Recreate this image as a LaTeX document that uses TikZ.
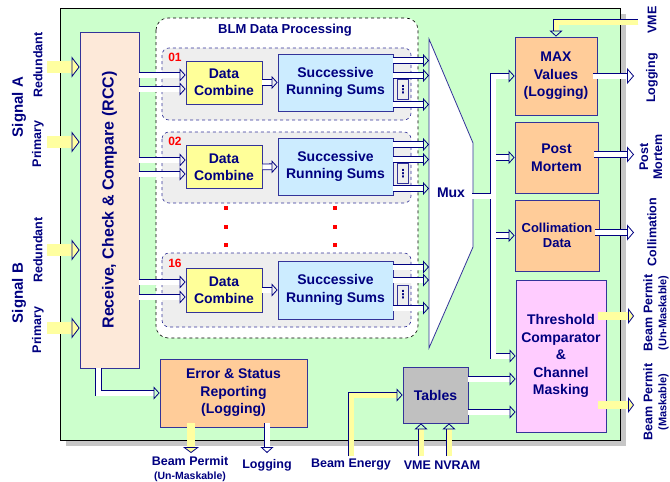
\documentclass[tikz,border=0pt]{standalone}
\usepackage{fontspec}
\setmainfont{Liberation Sans}
\newfontfamily\symfont{DejaVu Sans}
\usetikzlibrary{arrows.meta,positioning}
\definecolor{navy}{RGB}{0,0,128}
\definecolor{bord}{RGB}{51,51,153}
\definecolor{bggreen}{RGB}{204,255,204}
\definecolor{rccpeach}{RGB}{253,233,217}
\definecolor{chgray}{RGB}{238,238,238}
\definecolor{dcyellow}{RGB}{255,255,153}
\definecolor{srsblue}{RGB}{204,236,255}
\definecolor{boxorange}{RGB}{255,204,153}
\definecolor{thrpink}{RGB}{255,204,255}
\definecolor{tabgray}{RGB}{192,192,192}
\definecolor{sigyellow}{RGB}{255,255,160}

\begin{document}
\begin{tikzpicture}[x=1pt, y=-1pt,
  blk/.style={draw=bord, line width=0.8pt, text=navy, align=center, inner sep=0pt,
    font=\bfseries\fontsize{14}{17.5}\selectfont},
  chan/.style={draw=bord, dashed, line width=0.6pt, rounded corners=7pt, fill=chgray},
  dotbox/.style={draw=bord, fill=chgray, line width=0.6pt, text=navy, inner sep=0pt,
    minimum width=10pt, minimum height=20pt, font=\symfont\bfseries\fontsize{11}{11}\selectfont},
  num/.style={text=red, inner sep=0pt, font=\bfseries\fontsize{12}{12}\selectfont},
  lbl/.style={text=navy, align=center, inner sep=0pt, font=\bfseries\fontsize{12.5}{14}\selectfont},
  pipe/.style={draw=navy, line width=0.8pt, double=white, double distance=5pt,
    -{Triangle[open, length=6pt, width=13pt]}},
  bigpipe/.style={pipe, -{Triangle[open, length=7pt, width=16pt]}},
  ypipe/.style={pipe, double=sigyellow},
  sig/.style={draw=sigyellow, line width=12pt,
    -{Triangle[length=8pt, width=21pt, fill=sigyellow, color=navy, line width=0.8pt]}},
  ysig/.style={draw=sigyellow, line width=8pt,
    -{Triangle[length=6pt, width=16pt, fill=sigyellow, color=navy, line width=0.8pt]}},
  rdot/.style={fill=red, minimum size=3.5pt, inner sep=0pt}]
  \useasboundingbox (0,0) rectangle (670,482);
  \fill[gray!45] (66,14) rectangle (626,446);
  \draw[fill=bggreen, line width=0.8pt] (60,8) rectangle (620,440);

  \node[blk, fill=rccpeach, minimum width=59pt, minimum height=336pt] (rcc) at (109.5,200) {};
  \node[lbl, rotate=90, font=\bfseries\fontsize{16}{16}\selectfont] (rcctxt) at (rcc.center) {Receive, Check \& Compare (RCC)};
  \node[lbl, rotate=90, font=\bfseries\fontsize{15}{15}\selectfont] (siga) at (19,107) {Signal A};
  \node[lbl, rotate=90] (reda) at (38,65) {Redundant};
  \node[lbl, rotate=90] (pria) at (38,144) {Primary};
  \node[lbl, rotate=90, font=\bfseries\fontsize{15}{15}\selectfont] (sigb) at (19,293) {Signal B};
  \node[lbl, rotate=90] (redb) at (38,250) {Redundant};
  \node[lbl, rotate=90] (prib) at (38,330) {Primary};
  \coordinate (sigx) at (47,0);
  \draw[sig] ([yshift=133pt]rcc.west -| sigx) -- ([yshift=133pt]rcc.west);
  \draw[sig] ([yshift=58pt]rcc.west -| sigx) -- ([yshift=58pt]rcc.west);
  \draw[sig] ([yshift=-50pt]rcc.west -| sigx) -- ([yshift=-50pt]rcc.west);
  \draw[sig] ([yshift=-128pt]rcc.west -| sigx) -- ([yshift=-128pt]rcc.west);

  \draw[dashed, fill=white, rounded corners=12pt, line width=0.6pt] (156,18) rectangle (418,338);
  \node[lbl, font=\bfseries\fontsize{13}{13}\selectfont] (blm) at (285,30) {BLM Data Processing};

  % channel 01
  \draw[chan] (162,48) rectangle (411,120);
  \node[num] (n1) at (175,57) {01};
  \node[blk, fill=dcyellow, minimum width=76pt, minimum height=43pt] (dc1) at (224,82.5) {Data\\Combine};
  \node[blk, fill=srsblue, minimum width=115pt, minimum height=57pt] (srs1) at (335.5,82.5) {Successive\\Running Sums};
  \node[dotbox, right=4pt of srs1, yshift=-7pt] (sd1) {⋮};
  % channel 02
  \draw[chan] (162,132) rectangle (411,203);
  \node[num] (n2) at (175,141) {02};
  \node[blk, fill=dcyellow, minimum width=76pt, minimum height=43pt] (dc2) at (224,167) {Data\\Combine};
  \node[blk, fill=srsblue, minimum width=115pt, minimum height=57pt] (srs2) at (335.5,166.5) {Successive\\Running Sums};
  \node[dotbox, right=4pt of srs2, yshift=-7pt] (sd2) {⋮};
  % channel 16
  \draw[chan] (162,253) rectangle (411,327);
  \node[num] (n16) at (175,263) {16};
  \node[blk, fill=dcyellow, minimum width=76pt, minimum height=44pt] (dc16) at (224,290) {Data\\Combine};
  \node[blk, fill=srsblue, minimum width=115pt, minimum height=58pt] (srs16) at (335.5,290) {Successive\\Running Sums};
  \node[dotbox, right=4pt of srs16, yshift=-5pt] (sd16) {⋮};

  \node[rdot] (r1) at (226,208) {}; \node[rdot] (r2) at (335,208) {};
  \node[rdot] (r3) at (226,227) {}; \node[rdot] (r4) at (335,227) {};
  \node[rdot] (r5) at (226,245) {}; \node[rdot] (r6) at (335,245) {};

  % mux
  \coordinate (muxnw) at (429,39);
  \coordinate (muxne) at (473,143);
  \coordinate (muxse) at (473,247);
  \coordinate (muxsw) at (429,348);
  \draw[draw=bord, fill=white, line width=0.8pt] (muxnw) -- (muxne) -- (muxse) -- (muxsw) -- cycle;
  \node[lbl, font=\bfseries\fontsize{14}{14}\selectfont] (mux) at (451,193) {Mux};

  \draw[pipe] ([yshift=7.5pt]dc1.west -| rcc.east) -- ([yshift=7.5pt]dc1.west);
  \draw[pipe] ([yshift=-6.5pt]dc1.west -| rcc.east) -- ([yshift=-6.5pt]dc1.west);
  \draw[pipe] (dc1) -- (srs1);
  \draw[pipe] ([yshift=22pt]srs1.east) -- ([yshift=22pt]srs1.east -| muxnw);
  \draw[pipe] ([yshift=7pt]srs1.east) -- ([yshift=7pt]srs1.east -| muxnw);
  \draw[pipe] ([yshift=-22pt]srs1.east) -- ([yshift=-22pt]srs1.east -| muxnw);
  \draw[pipe] ([yshift=7pt]dc2.west -| rcc.east) -- ([yshift=7pt]dc2.west);
  \draw[pipe] ([yshift=-7pt]dc2.west -| rcc.east) -- ([yshift=-7pt]dc2.west);
  \draw[pipe] (dc2) -- (srs2);
  \draw[pipe] ([yshift=22pt]srs2.east) -- ([yshift=22pt]srs2.east -| muxnw);
  \draw[pipe] ([yshift=7pt]srs2.east) -- ([yshift=7pt]srs2.east -| muxnw);
  \draw[pipe] ([yshift=-22pt]srs2.east) -- ([yshift=-22pt]srs2.east -| muxnw);
  \draw[pipe] ([yshift=8pt]dc16.west -| rcc.east) -- ([yshift=8pt]dc16.west);
  \draw[pipe] ([yshift=-7pt]dc16.west -| rcc.east) -- ([yshift=-7pt]dc16.west);
  \draw[pipe] (dc16) -- (srs16);
  \draw[pipe] ([yshift=23pt]srs16.east) -- ([yshift=23pt]srs16.east -| muxnw);
  \draw[pipe] ([yshift=10pt]srs16.east) -- ([yshift=10pt]srs16.east -| muxnw);
  \draw[pipe] ([yshift=-18pt]srs16.east) -- ([yshift=-18pt]srs16.east -| muxnw);

  % right hand blocks
  \node[blk, fill=boxorange, minimum width=82pt, minimum height=78pt] (maxv) at (556,76) {MAX\\Values\\(Logging)};
  \node[blk, fill=boxorange, minimum width=83pt, minimum height=71pt] (pm) at (556.5,157.5) {Post\\Mortem};
  \node[blk, fill=boxorange, minimum width=84pt, minimum height=71pt, font=\bfseries\fontsize{13}{15}\selectfont] (coll) at (557,235.5) {Collimation\\Data};
  \node[blk, fill=thrpink, minimum width=90pt, minimum height=152pt] (thr) at (561,356) {Threshold\\Comparator\\\&\\Channel\\Masking};
  \node[blk, fill=boxorange, minimum width=147pt, minimum height=68pt] (err) at (233.5,393) {Error \& Status\\Reporting\\(Logging)};
  \node[blk, fill=tabgray, minimum width=65pt, minimum height=56pt] (tab) at (435.5,395) {Tables};

  % bus out of the mux
  \coordinate (muxout) at (472,196);
  \coordinate (bus) at (493,196);
  \draw[navy, line width=6.6pt, line cap=rect] (bus |- maxv.west) -- (bus |- thr.west);
  \draw[draw=navy, line width=0.8pt, double=white, double distance=5pt] (muxout) -- (bus);
  \draw[pipe] (bus |- maxv.west) -- (maxv.west);
  \draw[pipe] (bus |- pm.west) -- (pm.west);
  \draw[pipe] (bus |- coll.west) -- (coll.west);
  \draw[pipe] (bus |- thr.west) -- (thr.west);
  \draw[white, line width=5pt, line cap=rect] (bus |- maxv.west) -- (bus |- thr.west);

  % outputs
  \coordinate (outx) at (634,0);
  \draw[bigpipe] ([xshift=-4pt]maxv.east) -- (maxv.east -| outx);
  \draw[bigpipe] ([xshift=-4pt,yshift=3pt]pm.east) -- ([yshift=3pt]pm.east -| outx);
  \draw[bigpipe] ([xshift=-4pt,yshift=3pt]coll.east) -- ([yshift=3pt]coll.east -| outx);
  \draw[ysig] ([xshift=-8pt,yshift=40pt]thr.east) -- ([yshift=40pt]thr.east -| outx);
  \draw[ysig] ([xshift=-8pt,yshift=-49pt]thr.east) -- ([yshift=-49pt]thr.east -| outx);
  \coordinate (vmein) at (638,22);
  \draw[ypipe] (vmein) -| (maxv.north);

  \node[lbl, rotate=90] (vmel) at (652,20) {VME};
  \node[lbl, rotate=90] (logl) at (652,78) {Logging};
  \node[lbl, rotate=90] (pml) at (651,157) {Post\\Mortem};
  \node[lbl, rotate=90] (colll) at (652,232) {Collimation};
  \node[lbl, rotate=90] (bpul) at (656,313) {Beam Permit\\{\fontsize{11}{12}\selectfont(Un-Maskable)}};
  \node[lbl, rotate=90] (bpml) at (656,402) {Beam Permit\\{\fontsize{11}{12}\selectfont(Maskable)}};

  % bottom
  \draw[pipe] ([xshift=-11pt]rcc.south) |- (err.west);
  \coordinate (boty) at (0,453);
  \coordinate (inb) at (0,456);
  \draw[ysig] ([xshift=-42.5pt,yshift=4pt]err.south) -- ([xshift=-42.5pt]err.south |- boty);
  \draw[pipe] ([xshift=33.5pt,yshift=4pt]err.south) -- ([xshift=33.5pt]err.south |- boty);
  \coordinate (bein) at (351,456);
  \draw[ypipe] (bein) |- (tab.west);
  \draw[ypipe] ([xshift=-14.5pt]tab.south |- inb) -- ([xshift=-14.5pt]tab.south);
  \draw[ypipe] ([xshift=13.5pt]tab.south |- inb) -- ([xshift=13.5pt]tab.south);
  \draw[pipe] ([yshift=16pt]tab.east) -- ([yshift=16pt]tab.east -| thr.west);
  \draw[pipe] ([yshift=-17pt]tab.east) -- ([yshift=-17pt]tab.east -| thr.west);

  \node[lbl] (bpl) at (190,469) {Beam Permit\\{\fontsize{10.5}{11.5}\selectfont(Un-Maskable)}};
  \node[lbl] (logb) at (267,465) {Logging};
  \node[lbl] (bel) at (351,465) {Beam Energy};
  \node[lbl] (vnl) at (442,465) {VME NVRAM};
\end{tikzpicture}
\end{document}
